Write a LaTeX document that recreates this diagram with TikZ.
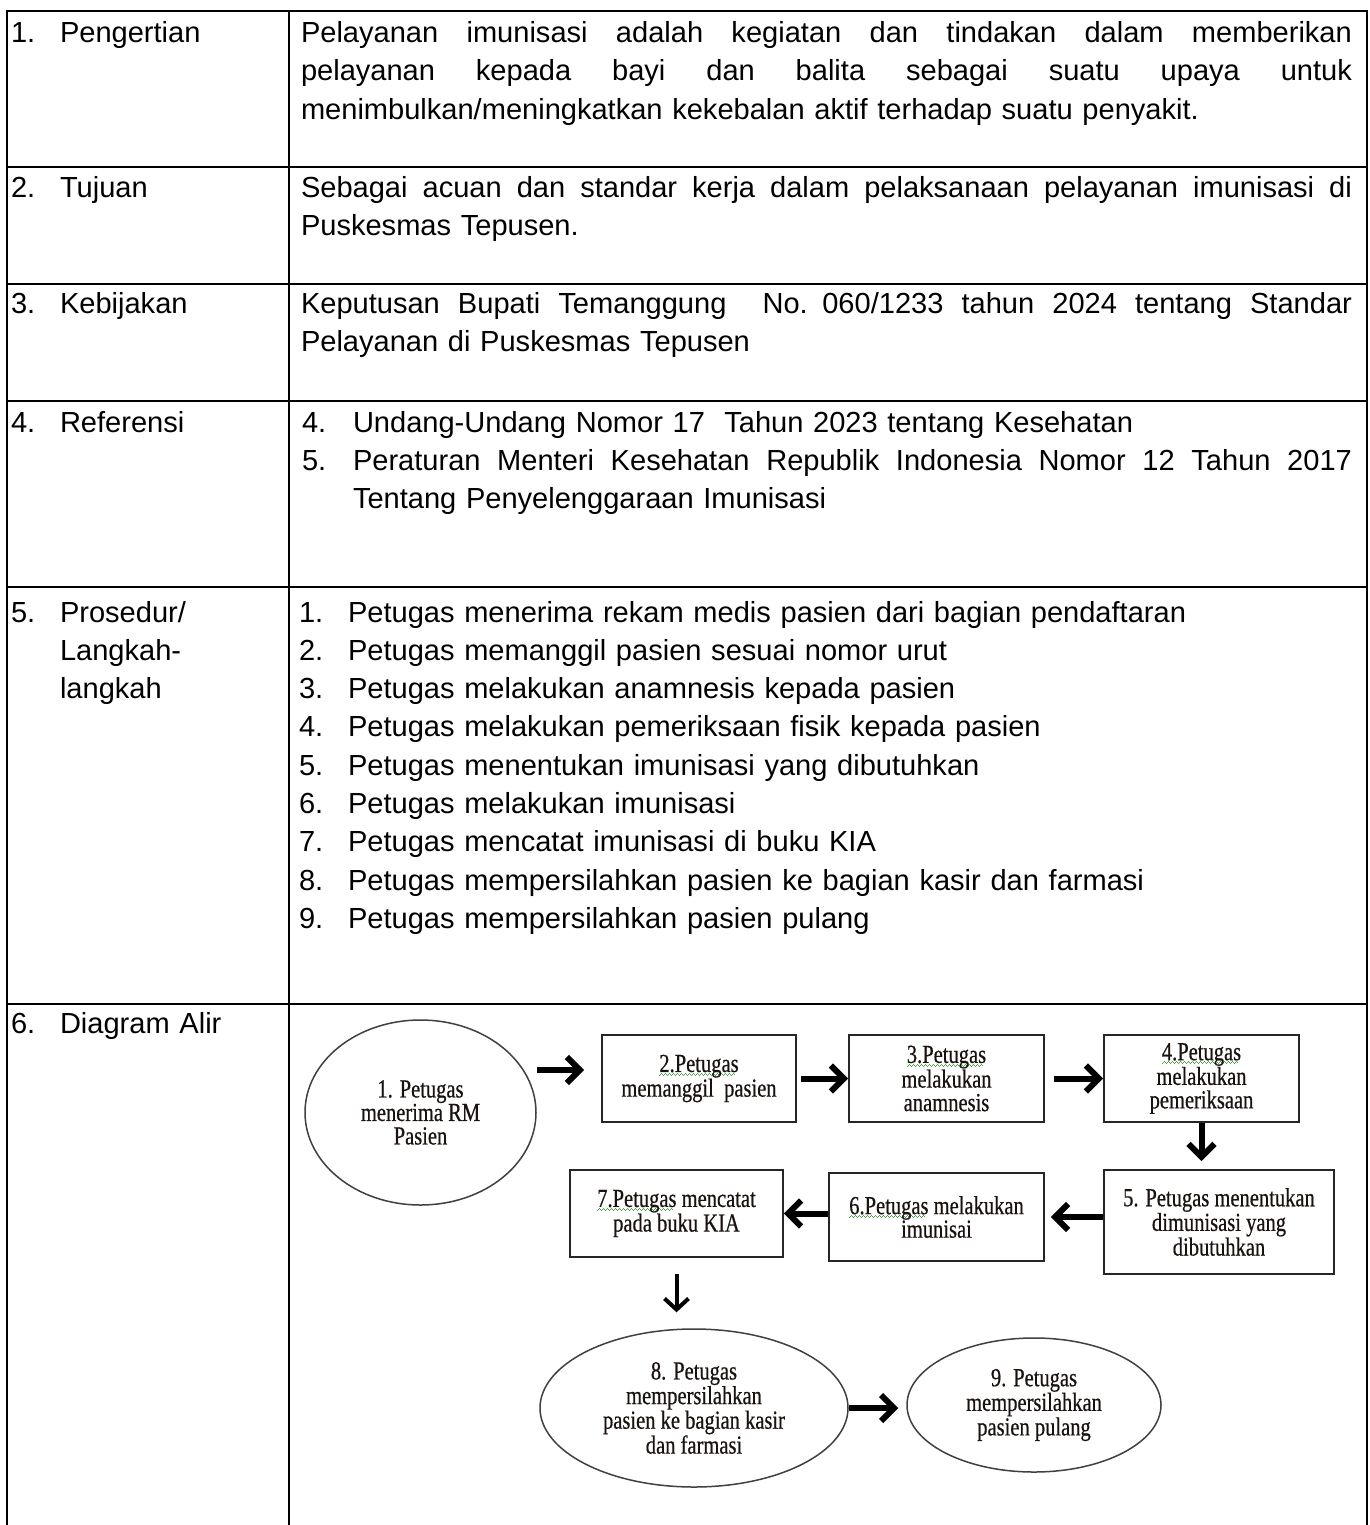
\documentclass[tikz,border=0pt]{standalone}
\usepackage{fontspec}
\setmainfont{Liberation Sans}
\newfontfamily\fcserif[FakeStretch=0.79,FakeBold=0.5]{Liberation Serif}
\usetikzlibrary{shapes.geometric,arrows.meta}
\definecolor{spell}{RGB}{70,165,70}
\definecolor{fctext}{RGB}{25,18,15}
\newsavebox\sqbox
\newcommand\wavebit{\hbox{\rule[-4pt]{1pt}{1.1pt}\rule[-3pt]{1pt}{1.1pt}\rule[-2pt]{1pt}{1.1pt}\rule[-3pt]{1pt}{1.1pt}}}
\newcommand\sqg[1]{\sbox\sqbox{#1}\rlap{\textcolor{spell}{\hbox to \wd\sqbox{\leaders\wavebit\hfill}}}\usebox\sqbox}
\newcommand\jl[2]{\leavevmode\hbox to #1{\spaceskip=0.278em plus 1fil\relax #2}}
\newcommand\tfont{\fontsize{29.05}{38.3}\selectfont}
\newcommand\fcfont{\fcserif\fontsize{26}{23.5}\selectfont}
\begin{document}
\begin{tikzpicture}[x=1pt,y=-1pt,
  tbl/.style={line width=2pt, black, line cap=rect},
  lbl/.style={anchor=base west, inner sep=0pt, outer sep=0pt, font=\tfont, align=left, text width=#1},
  lbl/.default=240pt,
  fbox/.style={draw=black!85, line width=1.8pt, rectangle, inner sep=0pt, align=center, font=\fcfont, text=fctext},
  fell/.style={draw=black!75, line width=1.5pt, ellipse, inner sep=0pt, align=center, font=\fcfont, text=fctext},
  arr/.style={line width=6pt, -{Straight Barb[length=13pt,width=26pt]}},
  arrthin/.style={line width=4pt, -{Straight Barb[length=11pt,width=24pt]}}
]
\useasboundingbox (0,0) rectangle (1369,1525);
\fill[white] (0,0) rectangle (1369,1525);

% table rules
\foreach \yy in {11,167,284,401,587,1004}{
  \draw[tbl] (7,\yy) -- (1367,\yy);
}
\foreach \xx in {7,289,1367}{
  \draw[tbl] (\xx,11) -- (\xx,1525);
}

% row 1
\node[lbl=40pt] (n1) at (11,42.5) {1.};
\node[lbl] (h1) at (60,42.5) {Pengertian};
\node[lbl=1051pt] (c1) at (301,42.5) {\jl{1051pt}{Pelayanan imunisasi adalah kegiatan dan tindakan dalam memberikan}\\
\jl{1051pt}{pelayanan kepada bayi dan balita sebagai suatu upaya untuk}\\
menimbulkan/meningkatkan kekebalan aktif terhadap suatu penyakit.};

% row 2
\node[lbl=40pt] (n2) at (11,197) {2.};
\node[lbl] (h2) at (60,197) {Tujuan};
\node[lbl=1051pt] (c2) at (301,197) {\jl{1051pt}{Sebagai acuan dan standar kerja dalam pelaksanaan pelayanan imunisasi di}\\
Puskesmas Tepusen.};

% row 3
\node[lbl=40pt] (n3) at (11,313) {3.};
\node[lbl] (h3) at (60,313) {Kebijakan};
\node[lbl=1051pt] (c3) at (301,313) {\jl{1051pt}{Keputusan Bupati Temanggung \ No. 060/1233 tahun 2024 tentang Standar}\\
Pelayanan di Puskesmas Tepusen};

% row 4
\node[lbl=40pt] (n4) at (11,432) {4.};
\node[lbl] (h4) at (60,432) {Referensi};
\node[lbl=45pt] (k4) at (302,432) {4.\\5.};
\node[lbl=999pt] (c4) at (353,432) {Undang-Undang Nomor 17~~Tahun 2023 tentang Kesehatan\\
\jl{999pt}{Peraturan Menteri Kesehatan Republik Indonesia Nomor 12 Tahun 2017}\\
Tentang Penyelenggaraan Imunisasi};

% row 5
\node[lbl=40pt] (n5) at (11,622) {5.};
\node[lbl] (h5) at (60,622) {Prosedur/\\Langkah-\\langkah};
\node[lbl=45pt] (k5) at (299,622) {1.\\2.\\3.\\4.\\5.\\6.\\7.\\8.\\9.};
\node[lbl=1000pt] (c5) at (348,622) {Petugas menerima rekam medis pasien dari bagian pendaftaran\\
Petugas memanggil pasien sesuai nomor urut\\
Petugas melakukan anamnesis kepada pasien\\
Petugas melakukan pemeriksaan fisik kepada pasien\\
Petugas menentukan imunisasi yang dibutuhkan\\
Petugas melakukan imunisasi\\
Petugas mencatat imunisasi di buku KIA\\
Petugas mempersilahkan pasien ke bagian kasir dan farmasi\\
Petugas mempersilahkan pasien pulang};

% row 6
\node[lbl=40pt] (n6) at (11,1033) {6.};
\node[lbl] (h6) at (60,1033) {Diagram Alir};

% flowchart
\node[fell, minimum width=231pt, minimum height=185pt] (e1) at (420.5,1112.5) {1. Petugas\\menerima RM\\Pasien};
\node[fbox, minimum width=194pt, minimum height=87pt] (b2) at (699,1078.5) {\sqg{2.Petugas}\\memanggil~~pasien};
\node[fbox, minimum width=195pt, minimum height=87pt] (b3) at (946.5,1078.5) {\sqg{3.Petugas}\\melakukan\\anamnesis};
\node[fbox, minimum width=195pt, minimum height=87pt] (b4) at (1201.5,1078.5) {\sqg{4.Petugas}\\melakukan\\pemeriksaan};
\node[fbox, minimum width=230pt, minimum height=104pt] (b5) at (1219,1222) {5. Petugas menentukan\\dimunisasi yang\\dibutuhkan};
\node[fbox, minimum width=215pt, minimum height=88pt] (b6) at (936.5,1217) {\sqg{6.Petugas} melakukan\\imunisai};
\node[fbox, minimum width=213pt, minimum height=87pt] (b7) at (676.5,1213.5) {\sqg{7.Petugas} mencatat\\pada buku KIA};
\node[fell, minimum width=308pt, minimum height=158pt] (e8) at (694,1408) {8. Petugas\\mempersilahkan\\pasien ke bagian kasir\\dan farmasi};
\node[fell, minimum width=254pt, minimum height=134pt] (e9) at (1034,1405) {9. Petugas\\mempersilahkan\\pasien pulang};

% connectors
\coordinate (p12) at ([yshift=8.5pt]b2.west);
\draw[arr] (p12 -| e1.east) -- ([xshift=-17pt]p12);
\draw[arr] ([xshift=4pt]b2.east) -- (b3.west);
\draw[arr] ([xshift=9pt]b3.east) -- (b4.west);
\draw[arr, shorten >=8pt] (b4.south) -- (b4.south |- b5.north);
\draw[arr, shorten >=6pt] (b6.east -| b5.west) -- (b6.east);
\draw[arr] (b7.east -| b6.west) -- (b7.east);
\draw[arrthin, shorten <=16pt, shorten >=16pt] (b7.south) -- (b7.south |- e8.north);
\draw[arr, shorten >=8pt] (e8.east) -- (e8.east -| e9.west);
\end{tikzpicture}
\end{document}
